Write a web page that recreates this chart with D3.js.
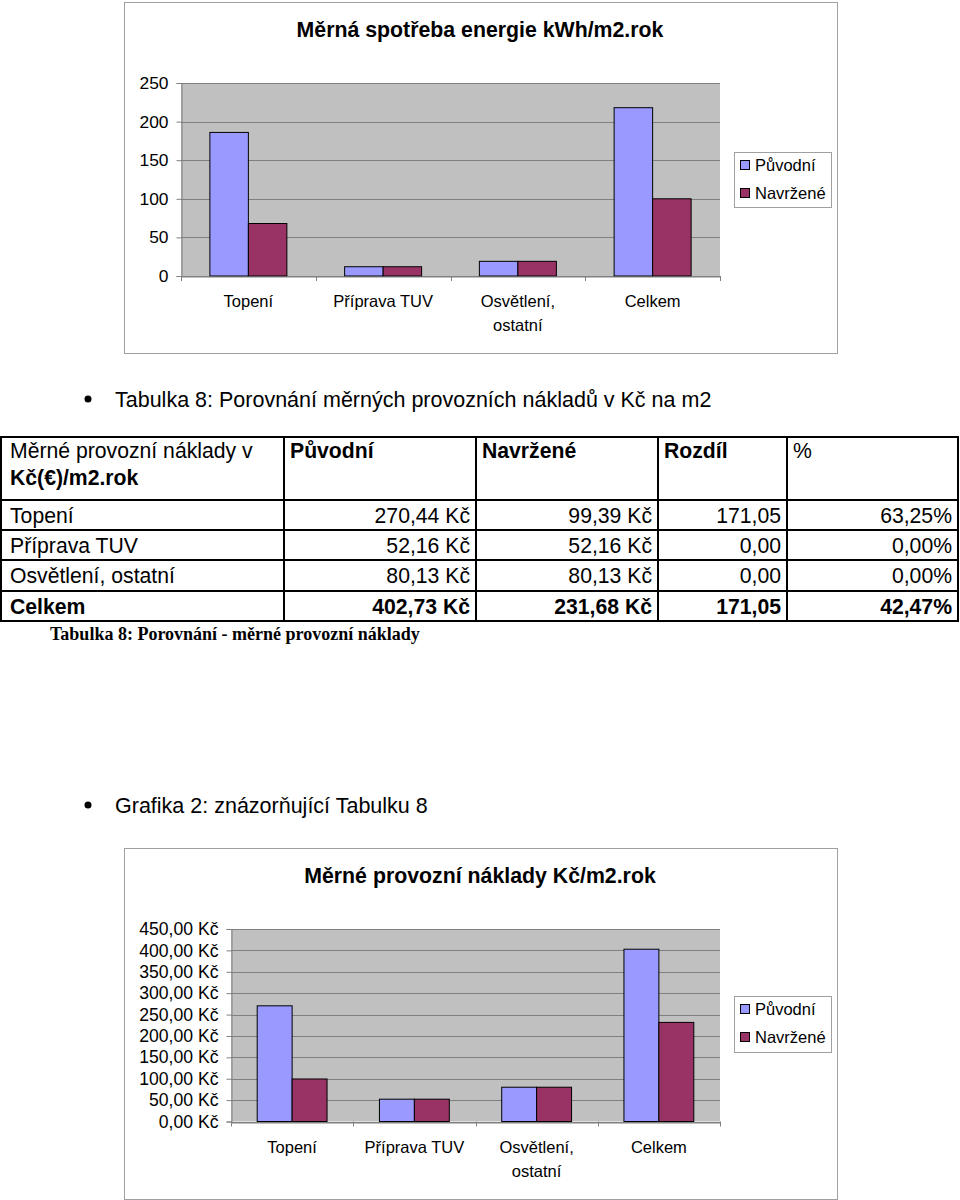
<!DOCTYPE html>
<html><head><meta charset="utf-8">
<script src="https://cdn.jsdelivr.net/npm/d3@7"></script>
<style>
html,body{margin:0;padding:0;background:#fff;}
svg{display:block;font-family:"Liberation Sans",Arial,sans-serif;}
</style></head>
<body>
<svg id="page" width="960" height="1200"></svg>
<script>
// ---------- data ----------
const categories = ["Topení", "Příprava TUV", "Osvětlení, ostatní", "Celkem"];
const seriesNames = ["Původní", "Navržené"];
const seriesColors = ["#9999ff", "#993366"];
const energyOriginal = [186, 12, 19, 218];
const energyProposed = [68, 12, 19, 100];
const energyTicks = [0, 50, 100, 150, 200, 250];
const costOriginal = [270.44, 52.16, 80.13, 402.73];
const costProposed = [99.39, 52.16, 80.13, 231.68];
const costTicks = [0, 50, 100, 150, 200, 250, 300, 350, 400, 450];
const costDiff = ["171,05", "0,00", "0,00", "171,05"];
const costPercent = ["63,25%", "0,00%", "0,00%", "42,47%"];
const tableHeaders = ["Původní", "Navržené", "Rozdíl", "%"];

const svg = d3.select("#page");
svg.append("rect").attr("width", 960).attr("height", 1200).attr("fill", "#fff");

const fmtKc = v => v.toFixed(2).replace(".", ",") + " Kč";

function drawChart(opt) {
  const g = svg.append("g");
  g.append("rect").attr("x", opt.frame[0] + 0.5).attr("y", opt.frame[1] + 0.5)
    .attr("width", opt.frame[2] - opt.frame[0]).attr("height", opt.frame[3] - opt.frame[1])
    .attr("fill", "#fff").attr("stroke", "#a0a0a0").attr("stroke-width", 1);
  g.append("text").attr("x", 480).attr("y", opt.titleY).attr("text-anchor", "middle")
    .attr("font-size", 21.3).attr("font-weight", "bold").attr("fill", "#000").text(opt.title);

  const p = opt.plot; // [left, top, right, bottom]
  const x = d3.scaleBand().domain(categories).range([p[0], p[2]]);
  const y = d3.scaleLinear().domain([0, opt.ticks[opt.ticks.length - 1]]).range([p[3], p[1]]);
  const barW = x.bandwidth() / 3.5;
  const xs = d3.scaleBand().domain(seriesNames).range([0, barW * 2]);

  g.append("rect").attr("x", p[0]).attr("y", p[1]).attr("width", p[2] - p[0]).attr("height", p[3] - p[1])
    .attr("fill", "#c0c0c0");
  g.append("g").selectAll("line").data(opt.ticks).join("line")
    .attr("x1", p[0]).attr("x2", p[2])
    .attr("y1", d => Math.round(y(d)) + 0.5).attr("y2", d => Math.round(y(d)) + 0.5)
    .attr("stroke", "#808080").attr("stroke-width", 1);

  const vals = [opt.original, opt.proposed];
  categories.forEach((c, i) => {
    seriesNames.forEach((s, j) => {
      const v = vals[j][i];
      g.append("rect")
        .attr("x", x(c) + (x.bandwidth() - barW * 2) / 2 + xs(s))
        .attr("y", y(v)).attr("width", xs.bandwidth()).attr("height", y(0) - y(v))
        .attr("fill", seriesColors[j]).attr("stroke", "#000").attr("stroke-width", 1);
    });
  });

  const ya = d3.axisLeft(y).tickValues(opt.ticks).tickSize(5).tickPadding(8).tickFormat(opt.fmt);
  const yg = g.append("g").attr("transform", `translate(${p[0] + 0.5},0)`).call(ya);
  yg.select(".domain").attr("stroke", "#808080");
  yg.selectAll(".tick line").attr("stroke", "#808080");
  yg.selectAll("text").attr("font-size", opt.tickFont).attr("fill", "#000").attr("font-family", "Liberation Sans, Arial");

  const xa = d3.axisBottom(x).tickSize(0).tickFormat("");
  const xg = g.append("g").attr("transform", `translate(0,${Math.round(y(0)) + 0.5})`).call(xa);
  xg.select(".domain").attr("stroke", "#808080");
  const bounds = categories.map(c => x(c)).concat([p[2]]);
  g.append("g").selectAll("line").data(bounds).join("line")
    .attr("x1", d => Math.round(d) + 0.5).attr("x2", d => Math.round(d) + 0.5)
    .attr("y1", y(0)).attr("y2", y(0) + 5).attr("stroke", "#808080");
  categories.forEach(c => {
    const lines = c.includes(", ") ? [c.split(", ")[0] + ",", c.split(", ")[1]] : [c];
    lines.forEach((t, k) => {
      g.append("text").attr("x", x(c) + x.bandwidth() / 2).attr("y", y(0) + 31 + k * 24)
        .attr("text-anchor", "middle").attr("font-size", 16.5).attr("fill", "#000").text(t);
    });
  });

  const L = opt.legend;
  g.append("rect").attr("x", L[0] + 0.5).attr("y", L[1] + 0.5).attr("width", L[2] - L[0]).attr("height", L[3] - L[1])
    .attr("fill", "#fff").attr("stroke", "#a0a0a0");
  seriesNames.forEach((s, j) => {
    const cy = L[1] + 13 + j * 28;
    g.append("rect").attr("x", L[0] + 6.5).attr("y", cy - 4.5).attr("width", 9).attr("height", 9)
      .attr("fill", seriesColors[j]).attr("stroke", "#000");
    g.append("text").attr("x", L[0] + 21).attr("y", cy + 6).attr("font-size", 16.5).attr("fill", "#000").text(s);
  });
}

drawChart({
  frame: [124, 2, 837, 353], title: "Měrná spotřeba energie kWh/m2.rok", titleY: 36.5,
  plot: [181, 83, 720, 276], ticks: energyTicks, fmt: d => String(d), tickFont: 17.4,
  original: energyOriginal, proposed: energyProposed, legend: [734, 152, 831, 207]
});
drawChart({
  frame: [124, 848, 837, 1199], title: "Měrné provozní náklady Kč/m2.rok", titleY: 882.5,
  plot: [231, 929, 720, 1121.5], ticks: costTicks, fmt: fmtKc, tickFont: 17.6,
  original: costOriginal, proposed: costProposed, legend: [734, 996, 831, 1052]
});

// ---------- bullets ----------
function bullet(yc, text) {
  svg.append("circle").attr("cx", 88).attr("cy", yc).attr("r", 3.5).attr("fill", "#000");
  svg.append("text").attr("x", 115).attr("y", yc + 7.5).attr("font-size", 21.5).attr("fill", "#000").text(text);
}
bullet(399, "Tabulka 8: Porovnání měrných provozních nákladů v Kč na m2");
bullet(805, "Grafika 2: znázorňující Tabulku 8");

// ---------- table ----------
const colX = [1, 284, 476, 658, 787, 958];
const rowY = [437, 500, 530, 560, 591, 621];
const t = svg.append("g").attr("font-size", 21.2).attr("fill", "#000");
t.append("text").attr("x", colX[0] + 9).attr("y", 458).text("Měrné provozní náklady v");
t.append("text").attr("x", colX[0] + 9).attr("y", 485).attr("font-weight", "bold").text("Kč(€)/m2.rok");
tableHeaders.forEach((h, i) => {
  t.append("text").attr("x", colX[i + 1] + 6).attr("y", 458).attr("font-weight", h === "%" ? "normal" : "bold").text(h);
});
categories.forEach((c, r) => {
  const yb = rowY[r + 1] + 23;
  const bold = c === "Celkem" ? "bold" : "normal";
  const cells = [fmtKc(costOriginal[r]), fmtKc(costProposed[r]), costDiff[r], costPercent[r]];
  t.append("text").attr("x", colX[0] + 9).attr("y", yb).attr("font-weight", bold).text(c);
  cells.forEach((v, i) => {
    t.append("text").attr("x", colX[i + 2] - 6).attr("y", yb).attr("text-anchor", "end").attr("font-weight", bold).text(v);
  });
});
rowY.forEach(yv => {
  t.append("line").attr("x1", 0).attr("x2", 959).attr("y1", yv).attr("y2", yv).attr("stroke", "#000").attr("stroke-width", 2);
});
colX.forEach(xv => {
  t.append("line").attr("x1", xv).attr("x2", xv).attr("y1", rowY[0]).attr("y2", rowY[rowY.length - 1]).attr("stroke", "#000").attr("stroke-width", 2);
});
svg.append("text").attr("x", 50).attr("y", 640).attr("font-family", "Liberation Serif, Times New Roman, serif")
  .attr("font-size", 18).attr("font-weight", "bold").attr("fill", "#000").text("Tabulka 8: Porovnání - měrné provozní náklady");
</script>
</body></html>
